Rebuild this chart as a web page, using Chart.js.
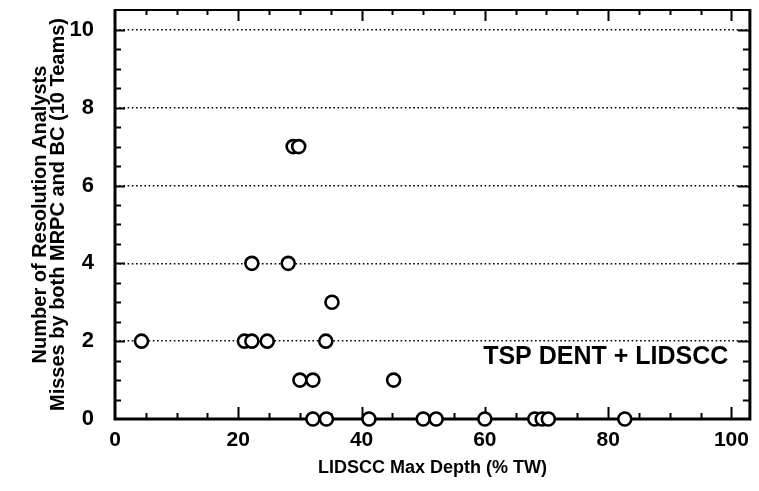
<!DOCTYPE html>
<html>
<head>
<meta charset="utf-8">
<script src="https://cdn.jsdelivr.net/npm/chart.js@4"></script>
<style>
  html, body { margin: 0; padding: 0; background: #fff; }
  #wrap { width: 759px; height: 491px; position: relative; }
</style>
</head>
<body>
<div id="wrap"><canvas id="c" width="759" height="491"></canvas></div>
<script>
// ---- data ----
const depthPct = [28.9, 29.8, 22.2, 28.1, 35.2, 4.3, 21.0, 22.2, 24.7, 34.2, 30.0, 32.1, 45.2,
                  32.1, 34.3, 41.2, 50.0, 52.1, 60.0, 68.1, 69.3, 70.3, 82.7];
const missCount = [7, 7, 4, 4, 3, 2, 2, 2, 2, 2, 1, 1, 1,
                   0, 0, 0, 0, 0, 0, 0, 0, 0, 0];
const xTickLabels = [0, 20, 40, 60, 80, 100];
const yTickLabels = [0, 2, 4, 6, 8, 10];
const xTitle = 'LIDSCC Max Depth (% TW)';
const yTitle = ['Number of Resolution Analysts', 'Misses by both MRPC and BC (10 Teams)'];
const annotation = 'TSP DENT + LIDSCC';

const FONT = '"Liberation Sans", Arial, Helvetica, sans-serif';

const points = depthPct.map((d, i) => ({ x: d, y: missCount[i] }));

const framePlugin = {
  id: 'frame',
  beforeDatasetsDraw(chart) {
    const { ctx, chartArea: a, scales: { x, y } } = chart;
    ctx.save();
    ctx.strokeStyle = '#000';
    ctx.lineCap = 'butt';
    ctx.lineWidth = 2;
    // x inner ticks (every 5, major every 20) top and bottom
    for (let v = 5; v <= 100; v += 5) {
      const px = Math.round(x.getPixelForValue(v)) + 0.5;
      const major = v % 20 === 0;
      const lb = major ? 12 : 6, lt = major ? 11 : 5;
      ctx.beginPath();
      ctx.moveTo(px, a.bottom); ctx.lineTo(px, a.bottom - lb);
      ctx.moveTo(px, a.top); ctx.lineTo(px, a.top + lt);
      ctx.stroke();
    }
    // y inner ticks (every 0.5, major at even values) left and right
    for (let v = 0.5; v <= 10; v += 0.5) {
      const py = Math.round(y.getPixelForValue(v)) + 0.5;
      const major = yTickLabels.includes(v);
      const l = major ? 10 : 6;
      ctx.beginPath();
      ctx.moveTo(a.left, py); ctx.lineTo(a.left + l, py);
      ctx.moveTo(a.right, py); ctx.lineTo(a.right - (major ? 12 : 7), py);
      ctx.stroke();
    }
    // frame
    ctx.lineWidth = 3;
    ctx.beginPath();
    ctx.moveTo(a.left, a.top - 1); ctx.lineTo(a.left, a.bottom + 1.5);
    ctx.moveTo(a.left - 1.5, a.bottom); ctx.lineTo(a.right + 1.5, a.bottom);
    ctx.moveTo(a.right, a.bottom); ctx.lineTo(a.right, a.top - 1);
    ctx.stroke();
    ctx.lineWidth = 2;
    ctx.beginPath();
    ctx.moveTo(a.left, a.top); ctx.lineTo(a.right, a.top);
    ctx.stroke();
    // annotation text
    ctx.fillStyle = '#000';
    ctx.font = 'bold 25px ' + FONT;
    ctx.textAlign = 'right';
    ctx.textBaseline = 'middle';
    ctx.fillText(annotation, x.getPixelForValue(99.5), y.getPixelForValue(1.6));
    ctx.restore();
  }
};

new Chart(document.getElementById('c'), {
  type: 'scatter',
  data: {
    datasets: [{
      data: points,
      pointRadius: 6.5,
      pointHoverRadius: 6.5,
      pointBorderWidth: 2.6,
      pointBorderColor: '#000',
      pointBackgroundColor: '#fff',
      clip: false
    }]
  },
  options: {
    responsive: false,
    animation: false,
    events: [],
    layout: { padding: { top: 10, right: 9, left: 0, bottom: 0 } },
    plugins: { legend: { display: false }, tooltip: { enabled: false } },
    scales: {
      x: {
        type: 'linear',
        min: 0,
        max: 103,
        afterFit: s => { s.height = 72; s.paddingLeft = 0; s.paddingRight = 0; },
        afterBuildTicks: s => { s.ticks = xTickLabels.map(v => ({ value: v })); },
        ticks: {
          stepSize: 20,
          includeBounds: false,
          color: '#000',
          padding: 9,
          maxRotation: 0,
          font: { family: FONT, size: 21, weight: 'bold' }
        },
        grid: { display: false, drawTicks: false },
        border: { display: false },
        title: {
          display: true,
          text: xTitle,
          color: '#000',
          padding: { top: 0, bottom: 12 },
          font: { family: FONT, size: 18, weight: 'bold' }
        }
      },
      y: {
        type: 'linear',
        min: 0,
        max: 10.51,
        afterFit: s => { s.width = 115; s.paddingTop = 0; s.paddingBottom = 0; },
        afterBuildTicks: s => { s.ticks = yTickLabels.map(v => ({ value: v })); },
        ticks: {
          stepSize: 2,
          includeBounds: false,
          color: '#000',
          padding: 21,
          font: { family: FONT, size: 22, weight: 'bold' }
        },
        grid: {
          drawTicks: false,
          lineWidth: 1.6,
          color: c => (c.tick && c.tick.value > 0) ? '#000' : 'rgba(0,0,0,0)'
        },
        border: { display: false, dash: [1.6, 2.6] },
        title: {
          display: true,
          text: yTitle,
          color: '#000',
          padding: { top: 31, bottom: 0 },
          font: { family: FONT, size: 20, weight: 'bold', lineHeight: 0.9 }
        }
      }
    }
  },
  plugins: [framePlugin]
});
</script>
</body>
</html>
